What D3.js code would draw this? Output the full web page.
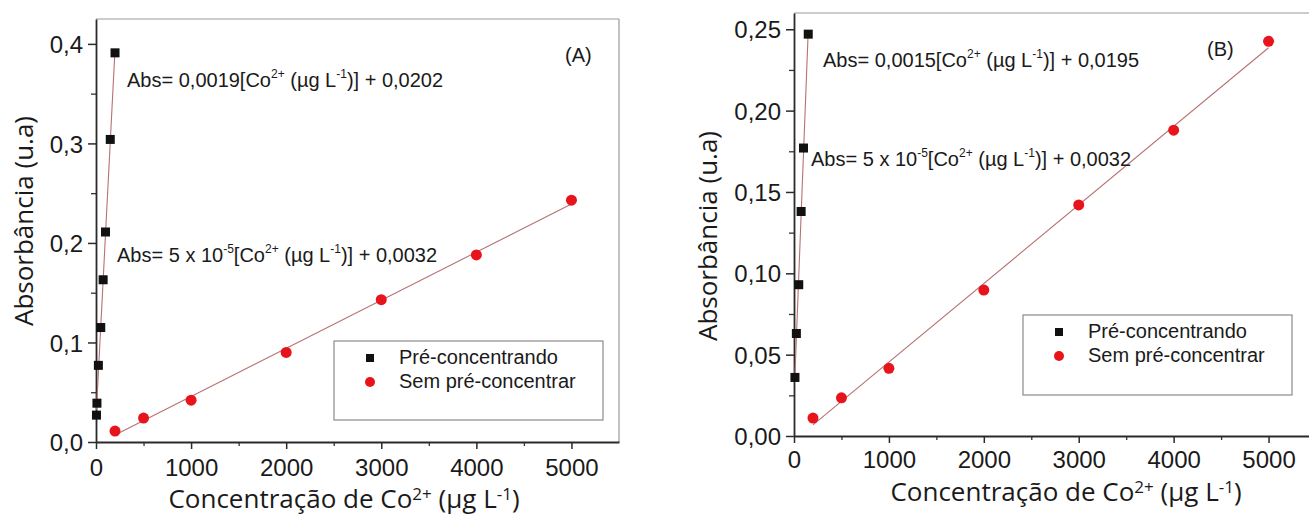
<!DOCTYPE html>
<html>
<head>
<meta charset="utf-8">
<script src="https://cdn.jsdelivr.net/npm/d3@7"></script>
<style>
  html, body { margin: 0; padding: 0; background: #fff; }
  svg { display: block; }
  .tick-label { font-family: "Liberation Sans", Arial, sans-serif; font-size: 24px; fill: #1a1a1a; }
  .ann { font-family: "Liberation Sans", Arial, sans-serif; font-size: 20px; fill: #1a1a1a; }
  .title { font-family: "Open Sans", sans-serif; font-size: 26px; fill: #1a1a1a; }
</style>
</head>
<body>
<svg id="chart" width="1309" height="517"></svg>
<script>
// Calibration data: Co2+ concentration (µg L-1) vs absorbance
const seriesNames = ["Pré-concentrando", "Sem pré-concentrar"];

const xTicks = [0, 1000, 2000, 3000, 4000, 5000];

// Panel (A)
const concPreA = [5, 10, 25, 50, 75, 100, 150, 200];
const absPreA  = [0.027, 0.039, 0.077, 0.115, 0.163, 0.211, 0.304, 0.391];
const concSemA = [200, 500, 1000, 2000, 3000, 4000, 5000];
const absSemA  = [0.011, 0.024, 0.042, 0.090, 0.143, 0.188, 0.243];
const yTicksA  = [0, 0.1, 0.2, 0.3, 0.4];
const eqPreA   = ["0,0019", "0,0202"];
const eqSemA   = ["5 x 10", "-5", "0,0032"];

// Panel (B)
const concPreB = [10, 25, 50, 75, 100, 150];
const absPreB  = [0.036, 0.063, 0.093, 0.138, 0.177, 0.247];
const concSemB = [200, 500, 1000, 2000, 3000, 4000, 5000];
const absSemB  = [0.011, 0.0235, 0.0416, 0.0897, 0.142, 0.188, 0.2426];
const yTicksB  = [0, 0.05, 0.10, 0.15, 0.20, 0.25];
const eqPreB   = ["0,0015", "0,0195"];
const eqSemB   = ["5 x 10", "-5", "0,0032"];

const svg = d3.select("#chart");
const RED = "#e8141c";
const FIT = "#b87272";

// Ordinary least-squares line through a series
function linFit(xs, ys) {
  const mx = d3.mean(xs), my = d3.mean(ys);
  let sxy = 0, sxx = 0;
  xs.forEach((x, i) => { sxy += (x - mx) * (ys[i] - my); sxx += (x - mx) * (x - mx); });
  const slope = sxy / sxx;
  return { slope, intercept: my - slope * mx };
}

// Equation text with superscripts: parts = [[text, isSup], ...]
function equation(g, x, y, parts) {
  const t = g.append("text").attr("class", "ann").attr("x", x).attr("y", y);
  let raised = false;
  parts.forEach(([s, sup]) => {
    const sp = t.append("tspan").text(s);
    if (sup && !raised) { sp.attr("dy", -9).attr("font-size", 12); raised = true; }
    else if (sup) { sp.attr("font-size", 12); }
    else if (raised) { sp.attr("dy", 9); raised = false; }
  });
}

function panel(cfg) {
  const g = svg.append("g");
  const x = d3.scaleLinear().domain([0, 5500]).range([cfg.left, cfg.right]);
  const y = d3.scaleLinear().domain([0, cfg.yMax]).range([cfg.bottom, cfg.top]);
  const fmt = v => d3.format(cfg.yFmt)(v).replace(".", ",");

  // frame: top and right edges
  g.append("line").attr("x1", cfg.left).attr("x2", cfg.right).attr("y1", cfg.top).attr("y2", cfg.top)
    .attr("stroke", "#9a9a9a").attr("stroke-width", 1.2);
  g.append("line").attr("x1", cfg.right).attr("x2", cfg.right).attr("y1", cfg.top).attr("y2", cfg.bottom)
    .attr("stroke", "#9a9a9a").attr("stroke-width", 1.2);

  // minor ticks
  const xMinor = d3.range(500, 5500, 1000);
  const yMinor = cfg.yMinor;
  const xm = g.append("g").attr("transform", `translate(0,${cfg.bottom})`)
    .call(d3.axisBottom(x).tickValues(xMinor).tickSize(4).tickFormat(""));
  const ym = g.append("g").attr("transform", `translate(${cfg.left},0)`)
    .call(d3.axisLeft(y).tickValues(yMinor).tickSize(5).tickFormat(""));
  [xm, ym].forEach(a => { a.select(".domain").remove(); a.selectAll("line").attr("stroke", "#333").attr("stroke-width", 1.3); });

  // major axes
  const xa = g.append("g").attr("transform", `translate(0,${cfg.bottom})`)
    .call(d3.axisBottom(x).tickValues(xTicks).tickSize(7).tickSizeOuter(0).tickPadding(cfg.xPad).tickFormat(d3.format("d")));
  const ya = g.append("g").attr("transform", `translate(${cfg.left},0)`)
    .call(d3.axisLeft(y).tickValues(cfg.yTicks).tickSize(8).tickSizeOuter(0).tickPadding(5).tickFormat(fmt));
  [xa, ya].forEach(a => {
    a.select(".domain").attr("stroke", "#2a2a2a").attr("stroke-width", 1.8);
    a.selectAll(".tick line").attr("stroke", "#2a2a2a").attr("stroke-width", 1.5);
    a.selectAll(".tick text").attr("class", "tick-label").attr("font-size", null).attr("font-family", null);
  });
  xa.selectAll(".tick text").attr("dy", "0.82em");
  ya.selectAll(".tick text").attr("dy", "0.36em");

  // fit lines over each series' range
  const lines = [[cfg.concPre, cfg.absPre], [cfg.concSem, cfg.absSem]];
  lines.forEach(([xs, ys]) => {
    const f = linFit(xs, ys);
    const ext = d3.extent(xs);
    g.append("line")
      .attr("x1", x(ext[0])).attr("y1", y(f.intercept + f.slope * ext[0]))
      .attr("x2", x(ext[1])).attr("y2", y(f.intercept + f.slope * ext[1]))
      .attr("stroke", FIT).attr("stroke-width", 1.1);
  });

  // markers
  g.selectAll(".sq").data(cfg.concPre.map((c, i) => [c, cfg.absPre[i]])).join("rect")
    .attr("x", d => x(d[0]) - 4.5).attr("y", d => y(d[1]) - 4.5)
    .attr("width", 9).attr("height", 9).attr("fill", "#111");
  g.selectAll(".ci").data(cfg.concSem.map((c, i) => [c, cfg.absSem[i]])).join("circle")
    .attr("cx", d => x(d[0])).attr("cy", d => y(d[1])).attr("r", 5.5).attr("fill", RED);

  // equations
  equation(g, cfg.eq1[0], cfg.eq1[1], [["Abs= " + cfg.eqPre[0] + "[Co"], ["2+", true], [" (µg L"], ["-1", true], [")] + " + cfg.eqPre[1]]]);
  equation(g, cfg.eq2[0], cfg.eq2[1], [["Abs= " + cfg.eqSem[0]], [cfg.eqSem[1], true], ["[Co"], ["2+", true], [" (µg L"], ["-1", true], [")] + " + cfg.eqSem[2]]]);
  g.append("text").attr("class", "ann").attr("x", cfg.tag[0]).attr("y", cfg.tag[1]).text(cfg.tagText);

  // legend
  const L = cfg.legend;
  g.append("rect").attr("x", L[0]).attr("y", L[1]).attr("width", L[2]).attr("height", L[3])
    .attr("fill", "#fff").attr("stroke", "#8a8a8a").attr("stroke-width", 1.2);
  g.append("rect").attr("x", L[0] + 36 - 4).attr("y", L[1] + 17 - 4).attr("width", 8).attr("height", 8).attr("fill", "#111");
  g.append("circle").attr("cx", L[0] + 36).attr("cy", L[1] + 41).attr("r", 5).attr("fill", RED);
  seriesNames.forEach((s, i) => {
    g.append("text").attr("class", "ann").attr("x", L[0] + 65).attr("y", L[1] + 23 + i * 24).text(s);
  });

  // axis titles
  const xt = g.append("text").attr("class", "title").attr("text-anchor", "middle")
    .attr("x", cfg.xTitle[0]).attr("y", cfg.xTitle[1]);
  xt.append("tspan").text("Concentração de Co");
  xt.append("tspan").text("2+").attr("font-size", 17).attr("dy", -8);
  xt.append("tspan").text(" (µg L").attr("dy", 8);
  xt.append("tspan").text("-1").attr("font-size", 17).attr("dy", -8);
  xt.append("tspan").text(")").attr("dy", 8);

  g.append("text").attr("class", "title").attr("text-anchor", "middle")
    .attr("transform", `translate(${cfg.yTitle[0]},${cfg.yTitle[1]}) rotate(-90)`)
    .text("Absorbância (u.a)");
}

panel({
  left: 96, right: 619, top: 19, bottom: 442, yMax: 0.425, yFmt: ".1f",
  yTicks: yTicksA, yMinor: [0.05, 0.15, 0.25, 0.35], xPad: 7,
  concPre: concPreA, absPre: absPreA, concSem: concSemA, absSem: absSemA,
  eqPre: eqPreA, eqSem: eqSemA,
  eq1: [127, 87], eq2: [117, 262], tag: [565, 62], tagText: "(A)",
  legend: [334, 341, 269, 79],
  xTitle: [344, 508], yTitle: [33, 221]
});

panel({
  left: 794, right: 1316, top: 13, bottom: 436, yMax: 0.26, yFmt: ".2f",
  yTicks: yTicksB, yMinor: [0.025, 0.075, 0.125, 0.175, 0.225], xPad: 5,
  concPre: concPreB, absPre: absPreB, concSem: concSemB, absSem: absSemB,
  eqPre: eqPreB, eqSem: eqSemB,
  eq1: [823, 67], eq2: [811, 166], tag: [1207, 56], tagText: "(B)",
  legend: [1023, 315, 269, 80],
  xTitle: [1066, 501], yTitle: [717, 236]
});
</script>
</body>
</html>
